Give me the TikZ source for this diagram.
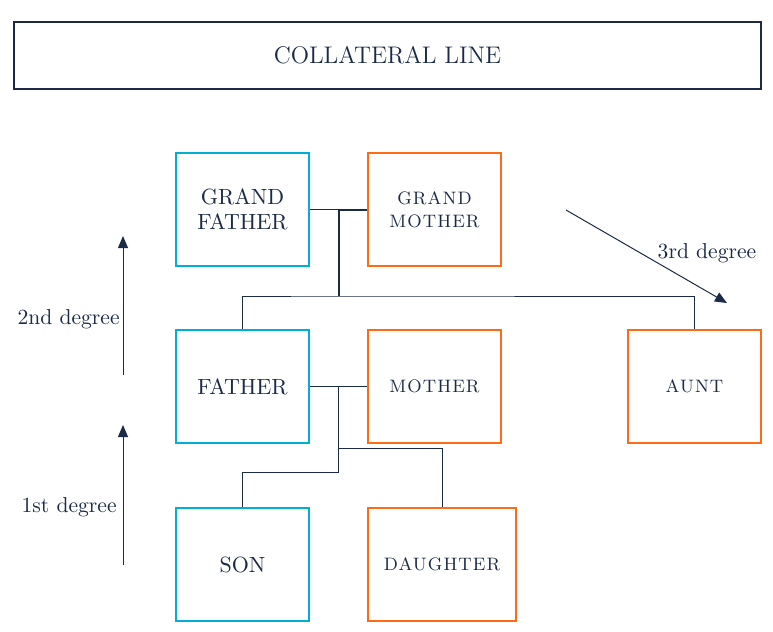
\documentclass[tikz,border=0pt]{standalone}
\usepackage{fontspec}
\setmainfont{Latin Modern Roman}
\usetikzlibrary{arrows.meta,calc}
\definecolor{navy}{RGB}{27,42,71}
\definecolor{kinblue}{RGB}{0,176,212}
\definecolor{kinorange}{RGB}{255,106,20}
\tikzset{
    person/.style={draw,line width=1pt,minimum width=66.5pt,minimum height=56.5pt,
        text=navy,align=center,font=\fontsize{11}{12.5}\selectfont,inner sep=0pt},
    male/.style={person,draw=kinblue},
    female/.style={person,draw=kinorange,font=\fontsize{9}{11.5}\selectfont\addfontfeature{LetterSpace=6}},
    kinline/.style={draw=navy,line width=0.5pt},
    degree/.style={draw=navy,line width=0.5pt,-{Triangle[length=6pt,width=5pt]}},
    degreelabel/.style={text=navy,font=\fontsize{10.8}{12}\selectfont,inner sep=0pt}
}

\begin{document}
\begin{tikzpicture}[x=0.5pt,y=-0.5pt]
            \useasboundingbox (0,0) rectangle (773,632);
            \node[draw=navy,line width=1pt,minimum width=373.5pt,minimum height=33.5pt,
                text=navy,font=\fontsize{12}{14}\selectfont] (title) at (387.5,55.5) {COLLATERAL LINE};
            % grandparents
            \node[male] (gf) at (242.5,209.5) {GRAND\\FATHER};
            \node[female] (gm) at (434.5,209.5) {GRAND\\MOTHER};
            % parents and aunt
            \node[male] (fa) at (242.5,386.5) {FATHER};
            \node[female] (mo) at (434.5,386.5) {MOTHER};
            \node[female] (au) at (694.5,386.5) {AUNT};
            % children
            \node[male] (son) at (242.5,564.5) {SON};
            \node[female,minimum width=74pt] (da) at (442,564.5) {DAUGHTER};
            \coordinate (gp) at ($(gf.east)!0.5!(gm.west)$);
            \coordinate (gbar) at (gp |- 0,296);
            \coordinate (pp) at ($(fa.east)!0.5!(mo.west)$);
            \coordinate (sbar) at (pp |- 0,472);
            \coordinate (dbar) at (pp |- 0,448);
            \draw[kinline] (gf.east) -- (gm.west);
            \draw[kinline,line width=1pt] (gm.west) -- (gp) -- (gbar);
            \draw[kinline] (fa.north) |- (gbar) -| (au.north);
            \draw[kinline] (fa.east) -- (mo.west);
            \draw[kinline] (pp) -- (sbar) -| (son.north);
            \draw[kinline] (dbar) -| (da.north);
            % degrees
            \coordinate (a1) at (123,565); \coordinate (b1) at (123,425);
            \coordinate (a2) at (123,375); \coordinate (b2) at (123,236);
            \coordinate (a3) at (566,210); \coordinate (b3) at (727,303);
            \draw[degree] (a1) -- (b1);
            \draw[degree] (a2) -- (b2);
            \draw[degree] (a3) -- (b3);
            \node[degreelabel,anchor=east] (d1) at (117,507) {1st degree};
            \node[degreelabel,anchor=east] (d2) at (120,319) {2nd degree};
            \node[degreelabel] (d3) at (707,253) {3rd degree};
        \end{tikzpicture}
\end{document}
